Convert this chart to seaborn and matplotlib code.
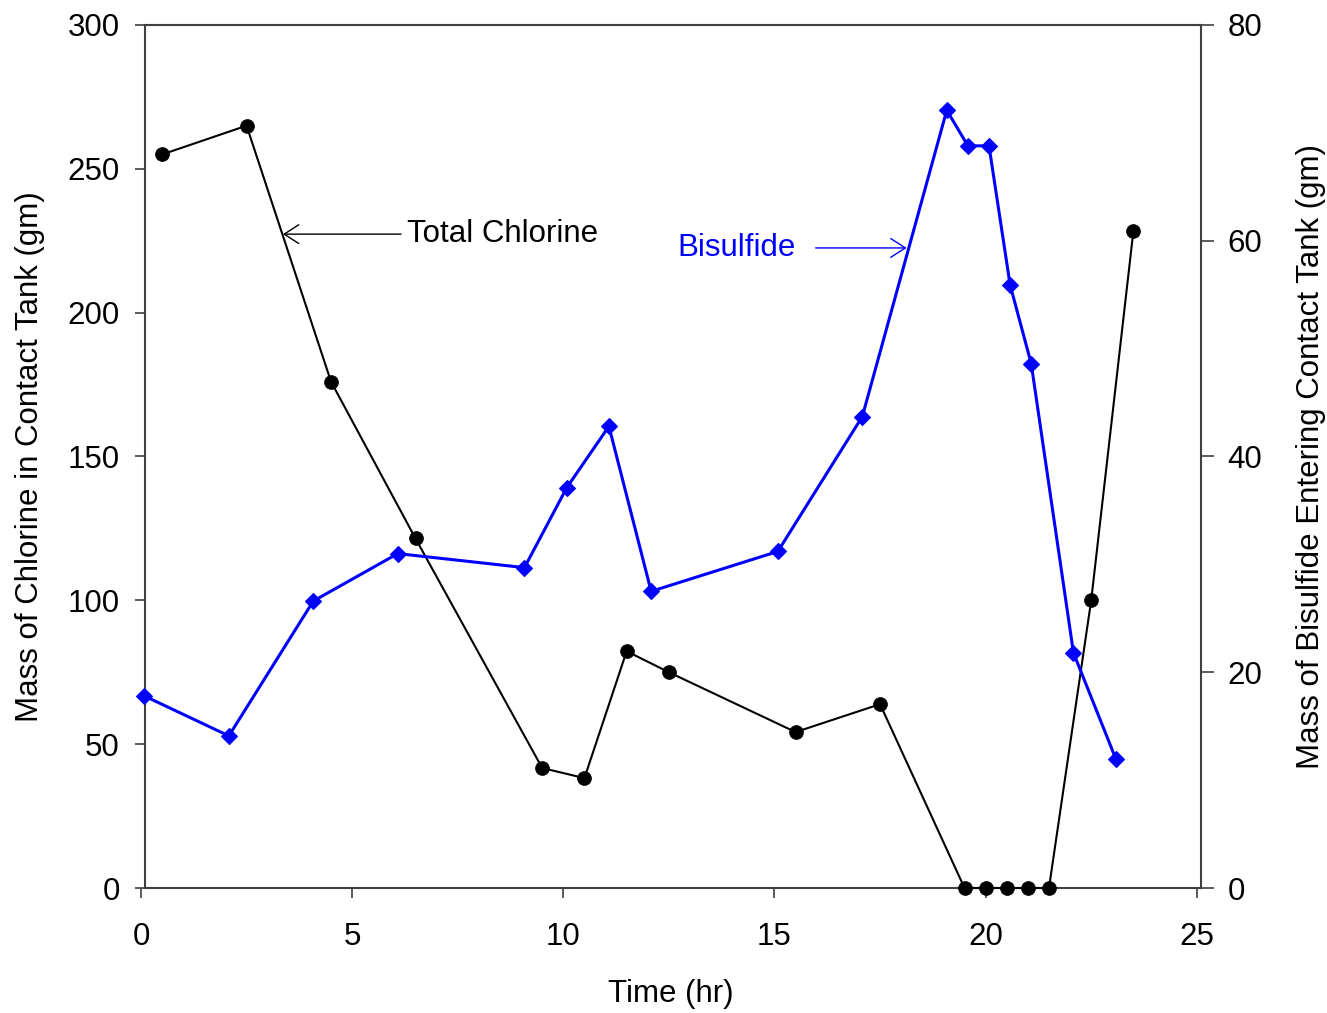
import matplotlib
matplotlib.use("Agg")
import matplotlib.pyplot as plt
import seaborn as sns
import pandas as pd

# Total chlorine held in the contact tank (left axis)
chlorine_time = [0.5, 2.5, 4.5, 6.5, 9.5, 10.5, 11.5, 12.5, 15.5, 17.5,
                 19.5, 20.0, 20.5, 21.0, 21.5, 22.5, 23.5]
chlorine_mass = [255, 265, 176, 121.5, 41.7, 38.2, 82.3, 75, 54.2, 63.9,
                 0, 0, 0, 0, 0, 100, 228.5]

# Bisulfide entering the contact tank (right axis)
bisulfide_time = [0.08, 2.08, 4.08, 6.08, 9.08, 10.08, 11.08, 12.08, 15.08, 17.08,
                  19.08, 19.58, 20.08, 20.58, 21.08, 22.08, 23.08]
bisulfide_mass = [17.8, 14.1, 26.6, 31.0, 29.7, 37.1, 42.8, 27.5, 31.2, 43.7,
                  72.1, 68.8, 68.8, 55.9, 48.6, 21.8, 12.0]

x_ticks = [0, 5, 10, 15, 20, 25]
left_ticks = [0, 50, 100, 150, 200, 250, 300]
right_ticks = [0, 20, 40, 60, 80]

chlorine_df = pd.DataFrame({"time": chlorine_time, "mass": chlorine_mass})
bisulfide_df = pd.DataFrame({"time": bisulfide_time, "mass": bisulfide_mass})

sns.set_theme(style="white")
plt.rcParams["font.family"] = ["Liberation Sans", "DejaVu Sans"]
plt.rcParams["text.color"] = "black"
plt.rcParams["axes.labelcolor"] = "black"
FS = 22.5
SPINE = "#404040"

fig = plt.figure(figsize=(13.27, 10.13), dpi=100)
ax = fig.add_axes([141 / 1327, 125 / 1013, 1060 / 1327, 863 / 1013])
ax2 = ax.twinx()

sns.lineplot(data=chlorine_df, x="time", y="mass", ax=ax, sort=False,
             color="black", linewidth=1.5, marker="o", markersize=10,
             markeredgecolor="black", markeredgewidth=0.5, clip_on=False, zorder=4)
sns.lineplot(data=bisulfide_df, x="time", y="mass", ax=ax2, sort=False,
             color="#0000FF", linewidth=2.2, marker="D", markersize=8.5,
             markeredgecolor="#0000FF", markeredgewidth=0.8, clip_on=False, zorder=3)

ax.set_xlim(0, 25.1)
ax.set_ylim(0, 300)
ax2.set_ylim(0, 80)
ax.set_xticks(x_ticks)
ax.set_yticks(left_ticks)
ax2.set_yticks(right_ticks)

# Left spine sits slightly right of x=0; frame runs from there to the right edge
ax.spines["left"].set_position(("data", 0.1))
for name in ["top", "bottom"]:
    ax.spines[name].set_bounds(0.1, 25.1)
for name in ["left", "right", "top", "bottom"]:
    ax.spines[name].set_color(SPINE)
    ax.spines[name].set_linewidth(1.5)
ax.spines["right"].set_visible(False)
for name in ["left", "top", "bottom"]:
    ax2.spines[name].set_visible(False)
ax2.spines["right"].set_color(SPINE)
ax2.spines["right"].set_linewidth(1.5)

ax.tick_params(axis="x", direction="out", length=7.2, width=1.2, colors=SPINE,
               labelcolor="black", labelsize=FS, pad=17, bottom=True)
ax.tick_params(axis="y", direction="out", length=7.2, width=1.2, colors=SPINE,
               labelcolor="black", labelsize=FS, pad=11, left=True)
ax2.tick_params(axis="y", direction="out", length=9, width=1.2, colors=SPINE,
                labelcolor="black", labelsize=FS, pad=10, right=True)
ax.grid(False)
ax2.grid(False)

ax.set_xlabel("Time (hr)", fontsize=FS, labelpad=20, color="black")
ax.set_ylabel("Mass of Chlorine in Contact Tank (gm)", fontsize=FS, labelpad=16,
              color="black")
ax2.set_ylabel("Mass of Bisulfide Entering Contact Tank (gm)", fontsize=FS,
               labelpad=24, color="black")

ax.annotate("Total Chlorine", xy=(3.36, 227.3), xytext=(6.3, 227.3),
            fontsize=FS, color="black", va="center", ha="left",
            arrowprops=dict(arrowstyle="->,head_length=0.7,head_width=0.45",
                            color="black", lw=1.0, shrinkA=2, shrinkB=0,
                            mutation_scale=15))
ax.annotate("Bisulfide", xy=(18.13, 222.5), xytext=(12.7, 222.5),
            fontsize=FS, color="#0000FF", va="center", ha="left",
            arrowprops=dict(arrowstyle="->,head_length=0.7,head_width=0.45",
                            color="#0000FF", lw=1.0, shrinkA=12, shrinkB=0,
                            mutation_scale=15))

fig.savefig("out.png", dpi=100)
